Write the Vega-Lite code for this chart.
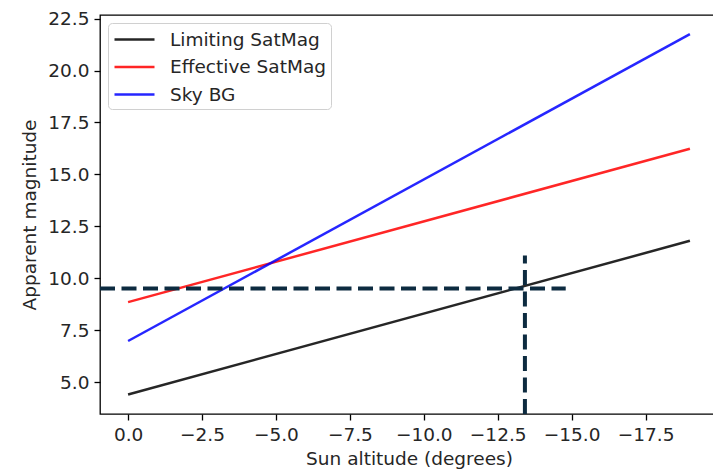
{
  "$schema": "https://vega.github.io/schema/vega-lite/v6.json",
  "width": 618,
  "height": 399,
  "autosize": "none",
  "padding": {"left": 100, "top": 15, "right": 0, "bottom": 57},
  "config": {
    "font": "DejaVu Sans",
    "view": {"stroke": "#000000", "strokeWidth": 1.3},
    "axis": {
      "domain": false,
      "grid": false,
      "tickColor": "#000000",
      "tickWidth": 1.3,
      "tickSize": 6,
      "labelPadding": 5,
      "labelFont": "DejaVu Sans",
      "labelFontSize": 18.5,
      "labelColor": "#262626",
      "titleFont": "DejaVu Sans",
      "titleFontSize": 18.5,
      "titleFontWeight": "normal",
      "titleColor": "#262626"
    }
  },
  "datasets": {
    "lines": [
      {"alt": 0, "mag": 4.42, "series": "Limiting SatMag"},
      {"alt": -19, "mag": 11.81, "series": "Limiting SatMag"},
      {"alt": 0, "mag": 8.86, "series": "Effective SatMag"},
      {"alt": -19, "mag": 16.24, "series": "Effective SatMag"},
      {"alt": 0, "mag": 6.99, "series": "Sky BG"},
      {"alt": -19, "mag": 21.75, "series": "Sky BG"}
    ],
    "guides": [
      {"alt": 0.95, "mag": 9.52, "g": "h"},
      {"alt": -14.8, "mag": 9.52, "g": "h"},
      {"alt": -13.42, "mag": 3.48, "g": "v"},
      {"alt": -13.42, "mag": 11.1, "g": "v"}
    ]
  },
  "layer": [
    {
      "data": {"name": "lines"},
      "mark": {"type": "line", "strokeWidth": 2.5, "opacity": 0.85, "clip": true},
      "encoding": {
        "x": {
          "field": "alt", "type": "quantitative",
          "scale": {"domain": [-19.95, 0.95], "reverse": true, "nice": false, "zero": false},
          "axis": {"values": [0, -2.5, -5, -7.5, -10, -12.5, -15, -17.5], "format": ".1f", "title": "Sun altitude (degrees)", "titlePadding": 6}
        },
        "y": {
          "field": "mag", "type": "quantitative",
          "scale": {"domain": [3.48, 22.67], "nice": false, "zero": false},
          "axis": {"values": [5, 7.5, 10, 12.5, 15, 17.5, 20, 22.5], "format": ".1f", "title": "Apparent magnitude", "titlePadding": 8}
        },
        "color": {
          "field": "series", "type": "nominal",
          "sort": ["Limiting SatMag", "Effective SatMag", "Sky BG"],
          "scale": {"domain": ["Limiting SatMag", "Effective SatMag", "Sky BG"], "range": ["#000000", "#ff0000", "#0000ff"]},
          "legend": {
            "title": null,
            "orient": "top-left",
            "offset": 8,
            "symbolType": "M-1,0H3",
            "symbolSize": 400,
            "symbolStrokeWidth": 2.5,
            "symbolOpacity": 0.85,
            "labelFontSize": 18.5,
            "labelFont": "DejaVu Sans",
            "labelColor": "#262626",
            "labelOffset": 34,
            "rowPadding": 6.5,
            "padding": 5,
            "fillColor": "#ffffff",
            "strokeColor": "#d0d0d0",
            "cornerRadius": 4
          }
        },
        "detail": {"field": "series"}
      }
    },
    {
      "data": {"name": "guides"},
      "mark": {"type": "line", "strokeWidth": 4, "strokeDash": [15, 6.5], "color": "#0d2b40", "clip": true},
      "encoding": {
        "x": {"field": "alt", "type": "quantitative"},
        "y": {"field": "mag", "type": "quantitative"},
        "detail": {"field": "g"}
      }
    }
  ]
}
